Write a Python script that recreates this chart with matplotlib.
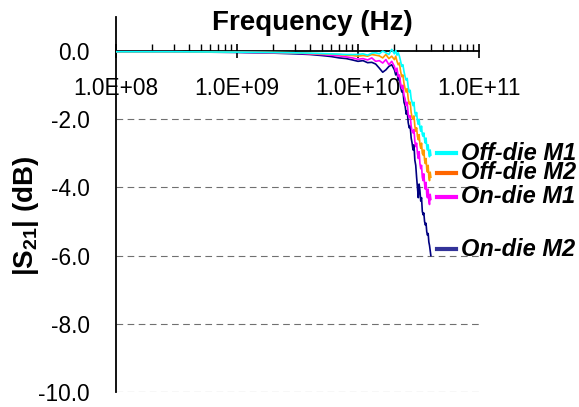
import numpy as np
import matplotlib
matplotlib.use("Agg")
import matplotlib.pyplot as plt
from matplotlib.ticker import LogLocator, FixedLocator, FuncFormatter, NullFormatter
from matplotlib.lines import Line2D

plt.rcParams['font.family'] = ['Liberation Sans', 'DejaVu Sans']
plt.rcParams['mathtext.fontset'] = 'custom'
plt.rcParams['mathtext.rm'] = 'Liberation Sans:bold'
plt.rcParams['mathtext.bf'] = 'Liberation Sans:bold'
plt.rcParams['mathtext.default'] = 'bf'

# frequency points in GHz
freq_ghz = [0.1, 0.3, 1, 2, 3, 4, 5, 6, 7, 8, 9, 10, 11, 12, 13, 14, 15, 16, 17, 18, 19,
            20.0, 20.5, 21.0, 21.5, 22.0, 22.5, 23.0, 23.5, 24.0, 24.5, 25.0, 25.5, 26.0,
            26.5, 27.0, 27.5, 28.0, 28.5, 29.0, 29.5, 30.0, 30.5, 31.0, 31.5, 32.0, 32.5,
            33.0, 33.5, 34.0, 34.5, 35.0, 35.5, 36.0, 36.5, 37.0, 37.5, 38.0, 38.5, 39.0,
            39.5, 40.0]

off_die_m1 = [-0.02, -0.02, -0.03, -0.04, -0.05, -0.06, -0.07, -0.08, -0.09, -0.1, -0.1,
              -0.1, -0.08, -0.12, -0.06, -0.05, -0.08, 0.0, -0.05, -0.1, 0.05,
              -0.08, 0.02, -0.12, -0.05, -0.15, -0.3, -0.45, -0.4, -0.6, -0.75, -0.85,
              -0.8, -1.05, -1.2, -1.15, -1.4, -1.5, -1.6, -1.5, -1.8, -1.9, -1.8, -2.05,
              -2.15, -2.0, -2.25, -2.35, -2.2, -2.45, -2.5, -2.4, -2.6, -2.7, -2.55, -2.8,
              -2.9, -2.75, -3.0, -3.1, -2.9, -3.05]
off_die_m2 = [-0.02, -0.02, -0.03, -0.04, -0.05, -0.07, -0.08, -0.09, -0.1, -0.12, -0.13,
              -0.15, -0.13, -0.15, -0.1, -0.12, -0.14, -0.2, -0.1, -0.22, -0.15,
              -0.25, -0.15, -0.3, -0.4, -0.35, -0.6, -0.75, -0.7, -0.95, -1.1, -1.2,
              -1.1, -1.4, -1.55, -1.5, -1.8, -1.95, -2.0, -1.9, -2.2, -2.35, -2.25, -2.5,
              -2.6, -2.45, -2.75, -2.85, -2.7, -3.0, -3.05, -2.9, -3.2, -3.3, -3.15, -3.45,
              -3.55, -3.35, -3.7, -3.8, -3.55, -3.7]
on_die_m1 = [-0.02, -0.02, -0.03, -0.05, -0.06, -0.08, -0.1, -0.12, -0.14, -0.17, -0.2,
             -0.24, -0.22, -0.26, -0.2, -0.3, -0.28, -0.35, -0.25, -0.4, -0.3,
             -0.45, -0.6, -0.5, -0.75, -0.7, -0.95, -1.1, -1.0, -1.3, -1.4, -1.6,
             -1.5, -1.85, -1.95, -1.9, -2.2, -2.35, -2.4, -2.3, -2.65, -2.8, -2.7, -3.0,
             -3.15, -2.95, -3.3, -3.45, -3.35, -3.7, -3.8, -3.6, -3.9, -4.05, -3.85, -4.2,
             -4.3, -4.05, -4.4, -4.5, -4.2, -4.35]
on_die_m2 = [-0.02, -0.02, -0.04, -0.06, -0.08, -0.1, -0.13, -0.16, -0.2, -0.22, -0.26,
             -0.3, -0.28, -0.34, -0.33, -0.38, -0.5, -0.62, -0.55, -0.45, -0.4,
             -0.55, -0.7, -0.62, -0.85, -0.78, -1.05, -1.2, -1.15, -1.5, -1.6, -1.85,
             -1.75, -2.1, -2.25, -2.2, -2.55, -2.7, -2.9, -2.75, -3.2, -3.35, -3.7, -4.0,
             -4.3, -3.9, -4.1, -4.4, -4.3, -4.7, -4.8, -4.75, -5.0, -5.1, -5.05, -5.3,
             -5.4, -5.35, -5.6, -5.7, -5.85, -6.0]

series_names = ['Off-die M1', 'Off-die M2', 'On-die M1', 'On-die M2']
series_values = [off_die_m1, off_die_m2, on_die_m1, on_die_m2]
line_colors = ['#00FFFF', '#FF9900', '#FF00FF', '#000080']
key_colors = ['#00FFFF', '#FF6600', '#FF00FF', '#333399']

y_ticks = [0.0, -2.0, -4.0, -6.0, -8.0, -10.0]

W, H = 579, 407
fig = plt.figure(figsize=(W / 100, H / 100), dpi=100)
ax = fig.add_axes([116 / W, 1 - 392 / H, (479 - 116) / W, (392 - 17) / H])

freq = np.array(freq_ghz) * 1e9
# draw navy first so cyan ends up on top
for vals, col in reversed(list(zip(series_values, line_colors))):
    ax.plot(freq, vals, color=col, lw=1.2, zorder=3)

ax.set_xscale('log')
ax.set_xlim(1e8, 1e11)
ax.set_ylim(-10, 1)

ax.spines['top'].set_visible(False)
ax.spines['right'].set_visible(False)
ax.spines['bottom'].set_position(('data', 0))
ax.spines['bottom'].set_linewidth(1.3)
ax.spines['left'].set_linewidth(1.3)
ax.spines['bottom'].set_zorder(2)

ax.xaxis.set_major_locator(LogLocator(base=10, numticks=10))
ax.xaxis.set_minor_locator(LogLocator(base=10, subs=np.arange(2, 10), numticks=20))
ax.xaxis.set_minor_formatter(NullFormatter())
ax.xaxis.set_major_formatter(FuncFormatter(lambda v, p: '{:.1E}'.format(v)))
ax.tick_params(axis='x', which='major', direction='inout', length=10, width=1.2,
               labelsize=16.3, pad=13.5)
ax.tick_params(axis='x', which='minor', direction='in', length=5, width=1.0)

ax.yaxis.set_major_locator(FixedLocator(y_ticks))
ax.yaxis.set_major_formatter(FuncFormatter(lambda v, p: '{:.1f}'.format(v) if v != 0 else '0.0'))
ax.tick_params(axis='y', length=0, labelsize=16.3, pad=18.7)

for yv in y_ticks[1:]:
    ax.axhline(yv, color='#707070', lw=0.8, ls=(0, (6, 4)), zorder=1)

fig.text(312 / W, 1 - 30 / H, 'Frequency (Hz)', fontsize=20, fontweight='bold',
         ha='center', va='baseline')
fig.text(26 / W, 1 - 216 / H, r'|S$_{21}$| (dB)', fontsize=20, fontweight='bold',
         rotation=90, ha='center', va='center')

# series keys at the ends of the curves
key_y = [153, 172.7, 196.7, 249]
for name, col, yp in zip(series_names, key_colors, key_y):
    fig.add_artist(Line2D([437 / W, 456 / W], [1 - yp / H, 1 - yp / H], color=col, lw=3))
    fig.text(461 / W, 1 - yp / H, name, fontsize=17, fontweight='bold', style='italic',
             ha='left', va='center')

fig.savefig('out.png', dpi=100)
